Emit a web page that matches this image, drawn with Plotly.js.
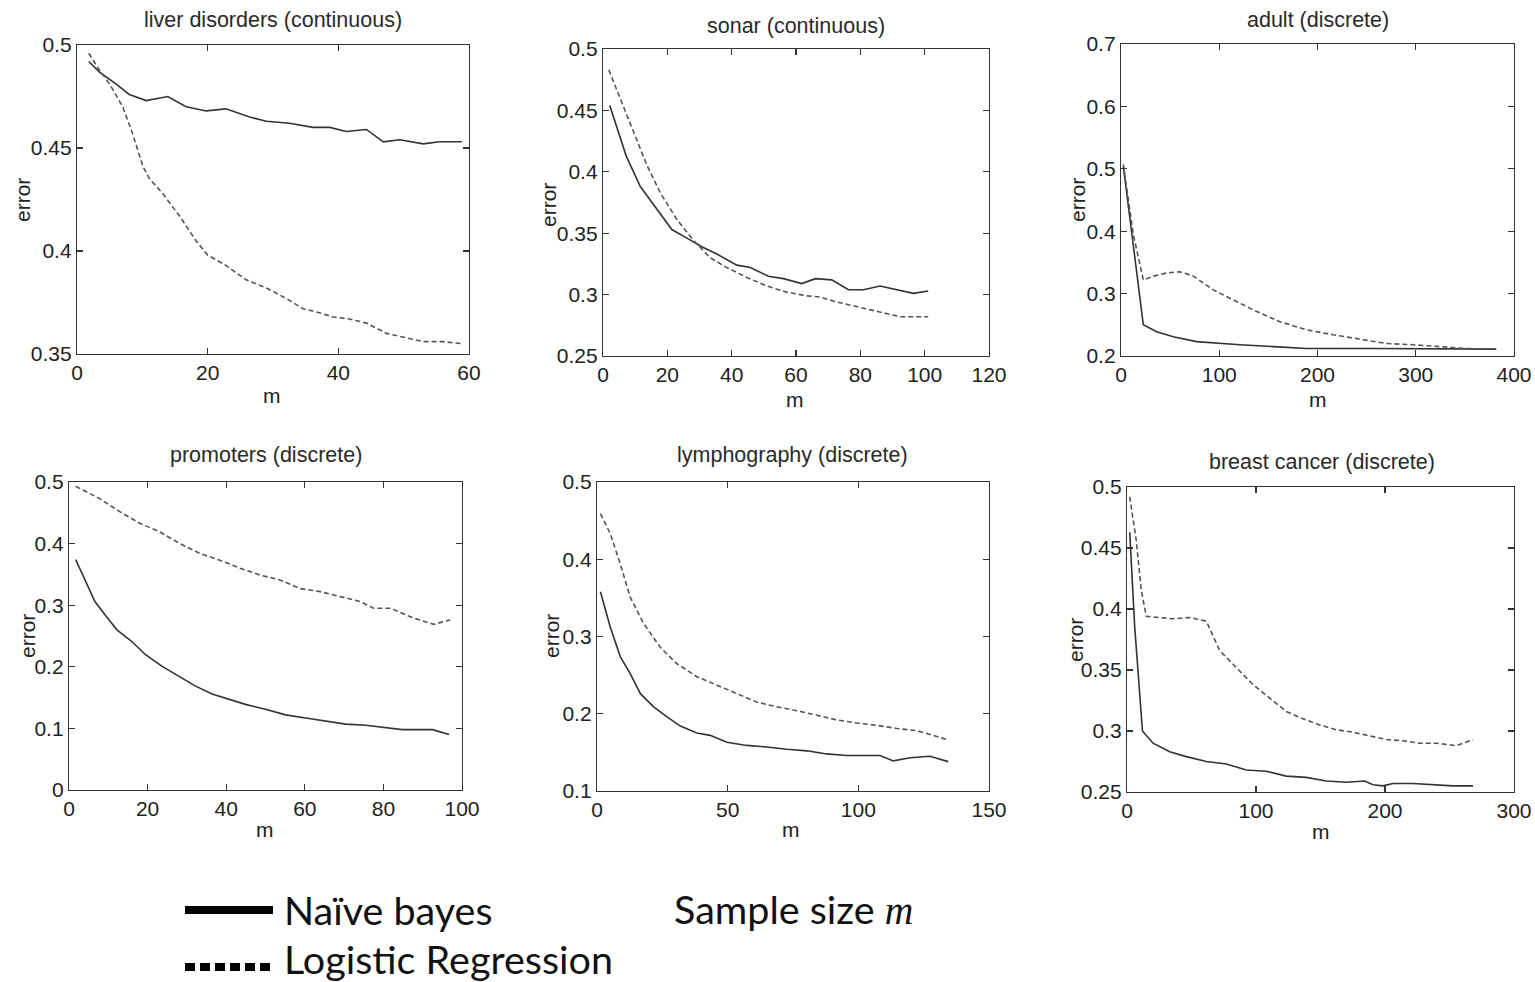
<!DOCTYPE html>
<html>
<head>
<meta charset="utf-8">
<script src="https://cdn.plot.ly/plotly-3.0.1.min.js"></script>
<style>html,body{margin:0;padding:0;background:#fff;}#chart{width:1535px;height:982px;}</style>
</head>
<body>
<div id="chart"></div>
<script>
// ---- data ----
const titles = ["liver disorders (continuous)", "sonar (continuous)", "adult (discrete)",
                "promoters (discrete)", "lymphography (discrete)", "breast cancer (discrete)"];
const seriesNames = ["Naïve bayes", "Logistic Regression"];

const liverNbM  = [1.8,3.4,6.0,8.0,10.6,12.1,13.9,16.7,19.8,22.8,26.4,29,32.5,36.1,38.7,41.2,44.3,46.9,49.4,53,55.5,58.9];
const liverNbE  = [0.492,0.487,0.481,0.476,0.473,0.474,0.475,0.470,0.468,0.469,0.465,0.463,0.462,0.460,0.460,0.458,0.459,0.453,0.454,0.452,0.453,0.453];
const liverLrM  = [1.8,3.4,5,7,8.5,10.1,11.1,13.1,15.7,18.2,20,22.8,25.9,29,32,34.6,37.1,39.2,41.7,44.3,47.4,50.4,53,56,58.9];
const liverLrE  = [0.496,0.488,0.481,0.470,0.457,0.441,0.435,0.428,0.417,0.405,0.398,0.393,0.386,0.382,0.377,0.372,0.370,0.368,0.367,0.365,0.360,0.358,0.356,0.356,0.355];

const sonarNbM  = [2.1,4.3,7.2,11.6,16.8,21.4,26.1,30.7,35.4,41.6,45.8,51.4,56.1,61.8,66,71.1,76.3,81,86.1,91.3,96.5,101.1];
const sonarNbE  = [0.454,0.437,0.413,0.388,0.369,0.353,0.346,0.339,0.333,0.324,0.322,0.315,0.313,0.309,0.313,0.312,0.304,0.304,0.307,0.304,0.301,0.303];
const sonarLrM  = [1.8,5.4,9.5,13.7,17.8,23,28.2,33.3,38.5,44.7,50.9,57.1,63.3,67.5,72.7,77.8,83,88.2,92.3,96.5,101.1];
const sonarLrE  = [0.483,0.459,0.432,0.405,0.383,0.361,0.344,0.330,0.322,0.314,0.307,0.302,0.299,0.298,0.294,0.291,0.288,0.285,0.282,0.282,0.282];

const adultNbM  = [2.4,22.7,36.3,53.2,77,100.7,121,155,188.8,256.6,324.4,382];
const adultNbE  = [0.504,0.250,0.239,0.231,0.223,0.220,0.218,0.215,0.212,0.212,0.212,0.211];
const adultLrM  = [2.4,12.5,22.7,32.9,46.4,60,73.6,93.9,114.2,134.6,161.7,188.8,215.9,243,270.2,297.3,324.4,351.5,382];
const adultLrE  = [0.507,0.395,0.322,0.328,0.333,0.335,0.328,0.306,0.290,0.274,0.255,0.242,0.234,0.227,0.220,0.218,0.215,0.212,0.211];

const promNbM   = [1.7,4.1,6.6,9.2,12.2,16,19.4,23.6,27.9,32.1,36.4,40.6,44.9,50,55.1,60.2,65.4,70.4,75.5,80.6,84.8,92.5,96.7];
const promNbE   = [0.374,0.341,0.306,0.284,0.260,0.241,0.220,0.201,0.185,0.169,0.156,0.147,0.139,0.131,0.122,0.117,0.112,0.107,0.105,0.101,0.098,0.098,0.090];
const promLrM   = [1.7,7.8,12.9,18,23.1,28.2,33.3,38.4,43.5,48.6,53.7,58.8,63.9,69,74.1,77.5,81.8,87.7,92.8,97];
const promLrE   = [0.493,0.473,0.452,0.433,0.419,0.400,0.384,0.373,0.360,0.349,0.341,0.327,0.322,0.314,0.306,0.295,0.295,0.279,0.269,0.276];

const lymphNbM  = [1.3,5.1,8.9,12.7,16.6,21.7,26.8,31.9,38.2,43.3,49.7,57.3,65,72.6,80.3,87.9,95.6,103.2,108.3,113.4,119.8,127.4,134.4];
const lymphNbE  = [0.358,0.312,0.274,0.252,0.226,0.209,0.196,0.184,0.175,0.172,0.163,0.159,0.157,0.154,0.152,0.148,0.146,0.146,0.146,0.139,0.143,0.145,0.138];
const lymphLrM  = [1.3,5.1,8.9,12.7,17.8,24.2,30.5,38.2,45.9,53.5,61.2,68.8,76.5,84.1,91.8,99.4,107.1,114.7,122.4,128.7,134.4];
const lymphLrE  = [0.459,0.433,0.394,0.351,0.317,0.286,0.265,0.248,0.237,0.226,0.215,0.209,0.204,0.198,0.192,0.188,0.185,0.181,0.178,0.172,0.166];

const breastNbM = [2.1,6,12,20.2,33.1,46,61.5,77,92.5,108,123.5,139,154.5,170,184.2,190.7,198.4,206.2,221.7,237.2,252.7,268.2];
const breastNbE = [0.463,0.385,0.300,0.290,0.283,0.279,0.275,0.273,0.268,0.267,0.263,0.262,0.259,0.258,0.259,0.256,0.255,0.257,0.257,0.256,0.255,0.255];
const breastLrM = [2.1,7.2,11.1,15,25.3,35.7,48.6,61.5,71.8,84.8,97.7,110.6,123.5,136.4,149.4,162.3,175.2,188.1,201,213.9,226.9,239.8,255.3,268.2];
const breastLrE = [0.492,0.456,0.415,0.394,0.393,0.392,0.393,0.390,0.366,0.352,0.338,0.327,0.316,0.310,0.305,0.301,0.299,0.296,0.293,0.292,0.290,0.290,0.288,0.293];

// tick values / labels
const xTicks = [[0,20,40,60],[0,20,40,60,80,100,120],[0,100,200,300,400],
                [0,20,40,60,80,100],[0,50,100,150],[0,100,200,300]];
const yTicks = [[0.35,0.4,0.45,0.5],[0.25,0.3,0.35,0.4,0.45,0.5],[0.2,0.3,0.4,0.5,0.6,0.7],
                [0,0.1,0.2,0.3,0.4,0.5],[0.1,0.2,0.3,0.4,0.5],[0.25,0.3,0.35,0.4,0.45,0.5]];
const yTickText = [["0.35","0.4","0.45","0.5"],["0.25","0.3","0.35","0.4","0.45","0.5"],["0.2","0.3","0.4","0.5","0.6","0.7"],
                   ["0","0.1","0.2","0.3","0.4","0.5"],["0.1","0.2","0.3","0.4","0.5"],["0.25","0.3","0.35","0.4","0.45","0.5"]];
const xLabel = "m", yLabel = "error";

// ---- layout geometry (pixels) ----
const W = 1535, H = 982;
const boxes = [ // [left, right, top, bottom]
  [77, 469, 45, 354], [603, 989, 49, 356], [1121, 1514, 44, 356],
  [69, 462, 482, 790], [597, 989, 482, 791], [1127, 1514, 487, 792]
];
const titlePos = [[273,20],[796,26],[1318,20],[266,455],[792,455],[1322,462]];
const mPos = [[272,395],[795,399],[1318,399],[265,829],[791,829],[1321,831]];
const errPos = [[22,200],[548,205],[1077,200],[27,636],[551,636],[1075,640]];

const datasets = [
  [liverNbM, liverNbE, liverLrM, liverLrE],
  [sonarNbM, sonarNbE, sonarLrM, sonarLrE],
  [adultNbM, adultNbE, adultLrM, adultLrE],
  [promNbM, promNbE, promLrM, promLrE],
  [lymphNbM, lymphNbE, lymphLrM, lymphLrE],
  [breastNbM, breastNbE, breastLrM, breastLrE]
];

const tickFont = {family: "Liberation Sans, Arial, sans-serif", size: 21, color: "#222"};
const traces = [];
const layout = {
  width: W, height: H, margin: {l:0, r:0, t:0, b:0},
  paper_bgcolor: "#fff", plot_bgcolor: "#fff", showlegend: false,
  annotations: [], shapes: []
};

datasets.forEach((d, i) => {
  const n = i + 1;
  const xa = n === 1 ? "x" : "x" + n, ya = n === 1 ? "y" : "y" + n;
  traces.push({x: d[0], y: d[1], xaxis: xa, yaxis: ya, type: "scatter", mode: "lines",
               name: seriesNames[0], line: {color: "#333", width: 1.6}});
  traces.push({x: d[2], y: d[3], xaxis: xa, yaxis: ya, type: "scatter", mode: "lines",
               name: seriesNames[1], line: {color: "#555", width: 1.6, dash: "5px,3px"}});
  const b = boxes[i];
  const xt = xTicks[i], yt = yTicks[i];
  const common = {showline: true, linecolor: "#333", linewidth: 1.2, mirror: "ticks",
                  ticks: "inside", ticklen: 6, tickcolor: "#333", tickwidth: 1.2,
                  showgrid: false, zeroline: false, tickfont: tickFont, fixedrange: true};
  layout[n === 1 ? "xaxis" : "xaxis" + n] = Object.assign({}, common, {
    domain: [b[0]/W, b[1]/W], anchor: ya, range: [xt[0], xt[xt.length-1]],
    tickmode: "array", tickvals: xt, ticktext: xt.map(String), ticklabelstandoff: 0
  });
  layout[n === 1 ? "yaxis" : "yaxis" + n] = Object.assign({}, common, {
    domain: [1 - b[3]/H, 1 - b[2]/H], anchor: xa, range: [yt[0], yt[yt.length-1]],
    tickmode: "array", tickvals: yt, ticktext: yTickText[i]
  });
  layout.annotations.push({text: titles[i], xref: "paper", yref: "paper",
    x: titlePos[i][0]/W, y: 1 - titlePos[i][1]/H, xanchor: "center", yanchor: "middle",
    showarrow: false, font: {family: "Liberation Sans, Arial, sans-serif", size: 21.5, color: "#2a2a2a"}});
  layout.annotations.push({text: xLabel, xref: "paper", yref: "paper",
    x: mPos[i][0]/W, y: 1 - mPos[i][1]/H, xanchor: "center", yanchor: "middle",
    showarrow: false, font: {family: "Liberation Sans, Arial, sans-serif", size: 21, color: "#222"}});
  layout.annotations.push({text: yLabel, xref: "paper", yref: "paper", textangle: -90,
    x: errPos[i][0]/W, y: 1 - errPos[i][1]/H, xanchor: "center", yanchor: "middle",
    showarrow: false, font: {family: "Liberation Sans, Arial, sans-serif", size: 21, color: "#222"}});
});

// ---- bottom legend ----
const legFont = {family: "Lato, Open Sans, sans-serif", size: 39.5, color: "#111"};
layout.shapes.push({type: "line", xref: "paper", yref: "paper",
  x0: 185/W, x1: 273/W, y0: 1 - 910/H, y1: 1 - 910/H, line: {color: "#000", width: 8}});
layout.shapes.push({type: "line", xref: "paper", yref: "paper",
  x0: 185/W, x1: 273/W, y0: 1 - 967/H, y1: 1 - 967/H, line: {color: "#000", width: 8, dash: "10px,5px"}});
layout.annotations.push({text: seriesNames[0], xref: "paper", yref: "paper",
  x: 282/W, y: 1 - 909/H, xanchor: "left", yanchor: "middle", showarrow: false, font: legFont});
layout.annotations.push({text: seriesNames[1], xref: "paper", yref: "paper",
  x: 282/W, y: 1 - 958/H, xanchor: "left", yanchor: "middle", showarrow: false, font: legFont});
layout.annotations.push({text: "Sample size <i style='font-family:Liberation Serif, DejaVu Serif, serif'>m</i>",
  xref: "paper", yref: "paper", x: 672/W, y: 1 - 909/H, xanchor: "left", yanchor: "middle",
  showarrow: false, font: legFont});

Plotly.newPlot("chart", traces, layout, {displayModeBar: false, staticPlot: true});
</script>
</body>
</html>
